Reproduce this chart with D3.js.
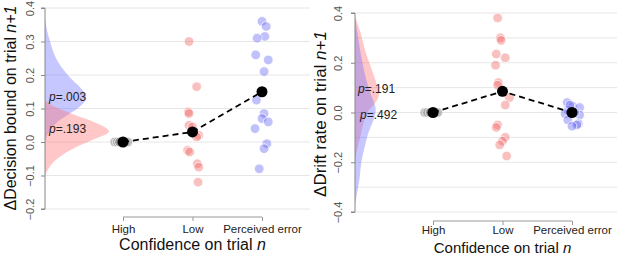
<!DOCTYPE html>
<html>
<head>
<meta charset="utf-8">
<script src="https://cdn.jsdelivr.net/npm/d3@7"></script>
<style>
  body { margin: 0; background: #fff; }
  svg { display: block; font-family: "Liberation Sans", Arial, sans-serif; }
</style>
</head>
<body>
<div id="chart"></div>
<script>
// ============================
// Data
// ============================

const categories = ["High", "Low", "Perceived error"];

// left panel: decision bound
const boundTicks = [-0.2, -0.1, 0.0, 0.1, 0.2, 0.3, 0.4];
const boundMeans = [0.0, 0.03, 0.15];
const boundHigh = [0, 0, 0, 0, 0];
const boundHighJit = [-0.12, -0.08, -0.05, 0.03, 0.07];
const boundLow = [0.30, 0.165, 0.09, 0.085, 0.05, 0.045, 0.02, 0.015, -0.025, -0.03, -0.065, -0.075, -0.12];
const boundLowJit = [-0.05, 0.06, -0.06, -0.05, -0.05, 0.0, 0.09, 0.06, -0.07, -0.04, 0.07, 0.09, 0.08];
const boundErr = [0.36, 0.345, 0.315, 0.31, 0.26, 0.245, 0.21, 0.125, 0.085, 0.07, 0.06, 0.04, -0.005, -0.02, -0.08];
const boundErrJit = [0.0, 0.06, 0.04, -0.07, -0.09, 0.09, 0.03, -0.08, 0.03, 0.0, 0.09, -0.10, 0.07, 0.03, -0.04];
// densities [value, density]
const boundDensErr = [[0.37,0],[0.33,0.3],[0.3,0.8],[0.25,1.5],[0.2,3.4],[0.17,5.1],[0.14,6.5],[0.12,6.2],[0.1,5.1],[0.08,3.4],[0.06,1.8],[0.04,0.9],[0.02,0.3],[0.0,0]];
const boundDensLow = [[0.125,0],[0.11,0.9],[0.1,2.0],[0.08,4.6],[0.06,7.7],[0.04,9.7],[0.03,10],[0.02,9.2],[0.0,6.5],[-0.02,4.2],[-0.04,2.5],[-0.06,1.2],[-0.08,0.5],[-0.1,0]];
const boundP = ["p", "=.003", "p", "=.193"];
const boundPVals = [0.135, 0.04];

// right panel: drift rate
const driftTicks = [-0.4, -0.2, 0.0, 0.2, 0.4];
const driftGrid = [-0.4, -0.3, -0.2, -0.1, 0.0, 0.1, 0.2, 0.3, 0.4];
const driftMeans = [0.0, 0.085, 0.0];
const driftHigh = [0, 0, 0, 0, 0];
const driftHighJit = [-0.12, -0.08, -0.04, 0.03, 0.07];
const driftLow = [0.38, 0.30, 0.29, 0.235, 0.22, 0.19, 0.12, 0.11, 0.06, 0.03, -0.05, -0.06, -0.1, -0.115, -0.13, -0.175];
const driftLowJit = [-0.07, -0.03, -0.02, -0.09, 0.04, -0.10, -0.06, -0.07, 0.10, 0.04, -0.07, -0.09, 0.04, 0.0, -0.04, 0.06];
const driftErr = [0.04, 0.025, 0.02, 0.01, -0.005, -0.01, -0.03, -0.045, -0.05, -0.055, 0.03, 0.0];
const driftErrJit = [-0.07, 0.01, 0.11, -0.06, -0.10, 0.11, -0.06, 0.09, 0.07, 0.0, -0.03, 0.04];
const driftDensLow = [[0.39,0],[0.35,0.5],[0.3,1.1],[0.25,1.5],[0.2,2.2],[0.15,2.9],[0.1,3.5],[0.07,3.85],[0.04,3.2],[0.02,2.5],[0.0,1.8],[-0.05,1.2],[-0.1,0.8],[-0.15,0.3],[-0.2,0]];
const driftDensErr = [[0.38,0],[0.3,0.5],[0.2,1.1],[0.1,2.0],[0.05,2.8],[0.02,3.2],[0.0,3.2],[-0.03,2.9],[-0.05,2.5],[-0.1,1.8],[-0.15,1.4],[-0.2,0.9],[-0.25,0.8],[-0.3,0.5],[-0.37,0]];
const driftP = ["p", "=.191", "p", "=.492"];
const driftPVals = [0.095, -0.01];

// ============================
// Setup
// ============================

const width = 617, height = 255;
const svg = d3.select("#chart").append("svg").attr("width", width).attr("height", height);

const redFill = "#ff6b6b", blueFill = "#6b6bff";
const redPt = "rgba(240,90,90,0.38)", bluePt = "rgba(90,90,245,0.38)", greyPt = "rgba(140,140,140,0.55)";

function drawPanel(o) {
  const g = svg.append("g");
  const y = d3.scaleLinear().domain(o.yDomain).range(o.yRange);
  const x = d3.scalePoint().domain(categories).range(o.xRange);
  const step = x.step();
  const dens = d3.scaleLinear().domain([0, 10]).range([0, 65]);

  // grid
  g.append("g").selectAll("line").data(o.grid).join("line")
    .attr("x1", o.axisX).attr("x2", o.gridEnd)
    .attr("y1", d => y(d)).attr("y2", d => y(d))
    .attr("stroke", "#e6e6e6").attr("stroke-width", 1);

  // densities
  const area = d3.area()
    .curve(d3.curveBasis)
    .y(d => y(d[0]))
    .x0(o.axisX)
    .x1(d => o.axisX + dens(d[1]));
  o.densities.forEach(dd => {
    g.append("path").datum(dd.data).attr("d", area)
      .attr("fill", dd.color).attr("fill-opacity", 0.38);
  });

  // p values
  o.pVals.forEach((v, i) => {
    const t = g.append("text")
      .attr("x", o.axisX + o.pDx[i]).attr("y", y(v))
      .attr("dy", "0.35em")
      .attr("font-size", 12).attr("fill", "#222");
    t.append("tspan").attr("font-style", "italic").text(o.pText[i * 2]);
    t.append("tspan").text(o.pText[i * 2 + 1]);
  });

  // y axis
  const yAx = d3.axisLeft(y).tickValues(o.ticks).tickSize(4)
    .tickFormat(d3.format(".1f"));
  const ya = g.append("g").attr("transform", `translate(${o.axisX},0)`).call(yAx);
  ya.select(".domain").attr("stroke", "#888").attr("d", `M-4,${y(o.yDomain[1])}H0V${y(o.yDomain[0])}H-4`);
  ya.selectAll(".tick line").attr("stroke", "#888");
  ya.selectAll(".tick text")
    .attr("font-size", 11).attr("fill", "#555")
    .attr("text-anchor", "middle")
    .attr("x", 0).attr("dy", 0)
    .attr("transform", `translate(${o.tickLabelX - o.axisX},0) rotate(-90)`)
    .attr("y", 4);

  // x axis
  const xAx = d3.axisBottom(x).tickSize(4).tickSizeOuter(0);
  const xa = g.append("g").attr("transform", `translate(0,${o.xAxisY})`).call(xAx);
  xa.select(".domain").attr("stroke", "#999").attr("d", `M${o.xRange[0]},0H${o.xRange[1]}`);
  xa.selectAll(".tick line").attr("stroke", "#999");
  xa.selectAll(".tick text").attr("font-size", 11.5).attr("fill", "#222").attr("y", o.xLabelDy);

  // titles
  const xt = g.append("text")
    .attr("x", (o.xRange[0] + o.xRange[1]) / 2).attr("y", o.xTitleY)
    .attr("text-anchor", "middle").attr("font-size", o.xTitleSize).attr("fill", "#111");
  xt.append("tspan").text("Confidence on trial ");
  xt.append("tspan").attr("font-style", "italic").text("n");

  const yt = g.append("text")
    .attr("transform", `translate(${o.yTitleX},${o.yTitleY}) rotate(-90)`)
    .attr("text-anchor", "middle").attr("font-size", o.yTitleSize).attr("fill", "#111");
  yt.append("tspan").text(o.yTitle);
  yt.append("tspan").attr("font-style", "italic").text("n+1");

  // points
  o.groups.forEach(gr => {
    g.append("g").selectAll("circle").data(gr.vals).join("circle")
      .attr("cx", (d, i) => x(gr.cat) + gr.jit[i] * step)
      .attr("cy", d => y(d))
      .attr("r", 4.8)
      .attr("fill", gr.color)
      .attr("stroke", "rgba(255,255,255,0.9)").attr("stroke-width", 0.8);
  });

  // mean line
  const line = d3.line().x((d, i) => x(categories[i])).y(d => y(d));
  g.append("path").datum(o.means).attr("d", line)
    .attr("fill", "none").attr("stroke", "#000")
    .attr("stroke-width", 1.8).attr("stroke-dasharray", "6,4");
  g.append("g").selectAll("circle").data(o.means).join("circle")
    .attr("cx", (d, i) => x(categories[i])).attr("cy", d => y(d))
    .attr("r", 5.5).attr("fill", "#000");
}

drawPanel({
  yDomain: [-0.2, 0.4], yRange: [209, 8],
  xRange: [123, 262], axisX: 45, gridEnd: 310,
  grid: boundTicks, ticks: boundTicks, tickLabelX: 30,
  xAxisY: 217, xLabelDy: 8, xTitleY: 250, xTitleSize: 16,
  yTitleX: 16, yTitleY: 108, yTitleSize: 16,
  yTitle: "\u0394Decision bound on trial ",
  densities: [{data: boundDensErr, color: blueFill}, {data: boundDensLow, color: redFill}],
  pVals: boundPVals, pText: boundP, pDx: [4, 4],
  means: boundMeans,
  groups: [
    {cat: "High", vals: boundHigh, jit: boundHighJit, color: greyPt},
    {cat: "Low", vals: boundLow, jit: boundLowJit, color: redPt},
    {cat: "Perceived error", vals: boundErr, jit: boundErrJit, color: bluePt}
  ]
});

drawPanel({
  yDomain: [-0.4, 0.4], yRange: [212, 13],
  xRange: [433, 572], axisX: 355, gridEnd: 617,
  grid: driftGrid, ticks: driftTicks, tickLabelX: 338,
  xAxisY: 221, xLabelDy: 5, xTitleY: 253, xTitleSize: 15,
  yTitleX: 326, yTitleY: 114, yTitleSize: 17,
  yTitle: "\u0394Drift rate on trial ",
  densities: [{data: driftDensLow, color: redFill}, {data: driftDensErr, color: blueFill}],
  pVals: driftPVals, pText: driftP, pDx: [3, 5],
  means: driftMeans,
  groups: [
    {cat: "High", vals: driftHigh, jit: driftHighJit, color: greyPt},
    {cat: "Low", vals: driftLow, jit: driftLowJit, color: redPt},
    {cat: "Perceived error", vals: driftErr, jit: driftErrJit, color: bluePt}
  ]
});
</script>
</body>
</html>
